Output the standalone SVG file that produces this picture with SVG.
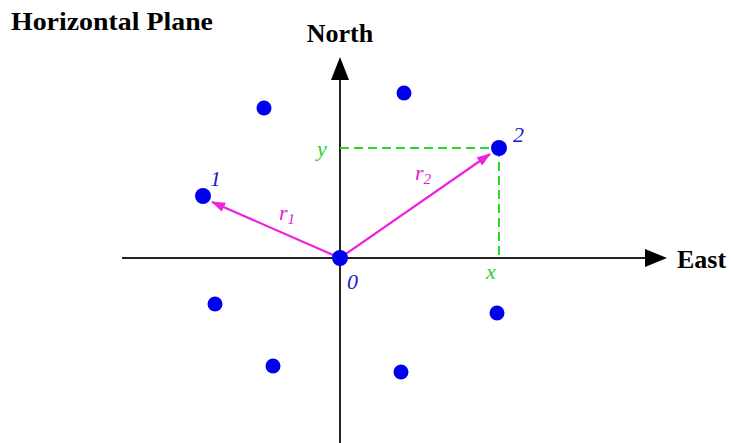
<svg xmlns="http://www.w3.org/2000/svg" width="731" height="443" viewBox="0 0 731 443">
<style>
.bold{font-family:"Liberation Serif","DejaVu Serif",serif;font-weight:bold;font-size:26px;fill:#000}
.it{font-family:"Liberation Serif","DejaVu Serif",serif;font-style:italic;font-size:22px}
.blue{fill:#2020c8}
.green{fill:#33cc33}
.mag{fill:#e020d0}
.dot{fill:#0000ee}
.axis{stroke:#222;stroke-width:2;fill:none}
.dash{stroke:#22dd22;stroke-width:2;stroke-dasharray:9 5;fill:none}
.vec{stroke:#ee22dd;stroke-width:2.2;fill:none}
</style>
<defs>
<marker id="mh" markerWidth="14" markerHeight="10" refX="13" refY="5" orient="auto" markerUnits="userSpaceOnUse"><path d="M0,0 L14,5 L0,10 Z" fill="#ee22dd"/></marker>
</defs>
<rect width="731" height="443" fill="#fff"/>
<text class="bold" x="11" y="30" textLength="202" lengthAdjust="spacingAndGlyphs">Horizontal Plane</text>
<g id="connectors">
<line class="axis" x1="340" y1="443" x2="340" y2="80"/>
<path d="M331,80 L340,57 L349,80 Z" fill="#000"/>
<line class="axis" x1="122" y1="258" x2="645" y2="258"/>
<path d="M645,249 L667,258 L645,267 Z" fill="#000"/>
<line class="dash" x1="340" y1="148" x2="499" y2="148"/>
<line class="dash" x1="499" y1="148" x2="499" y2="258"/>
<line class="vec" x1="340" y1="258" x2="212" y2="202" marker-end="url(#mh)"/>
<line class="vec" x1="340" y1="258" x2="490" y2="154" marker-end="url(#mh)"/>
</g>
<g id="north"><text class="bold" x="340" y="42" text-anchor="middle">North</text></g>
<g id="east"><text class="bold" x="677" y="268">East</text></g>
<g id="node0"><circle class="dot" cx="340" cy="258" r="8"/><text class="it blue" x="347" y="289">0</text></g>
<g id="node1"><circle class="dot" cx="203" cy="196" r="8"/><text class="it blue" x="210" y="186">1</text></g>
<g id="node2"><circle class="dot" cx="499" cy="148" r="8"/><text class="it blue" x="513" y="142">2</text></g>
<g id="dot3"><circle class="dot" cx="264" cy="108" r="7.5"/></g>
<g id="dot4"><circle class="dot" cx="404" cy="93" r="7.5"/></g>
<g id="dot5"><circle class="dot" cx="215" cy="304" r="7.5"/></g>
<g id="dot6"><circle class="dot" cx="497" cy="313" r="7.5"/></g>
<g id="dot7"><circle class="dot" cx="273" cy="366" r="7.5"/></g>
<g id="dot8"><circle class="dot" cx="401" cy="372" r="7.5"/></g>
<g id="labels">
<text class="it green" x="317" y="156">y</text>
<text class="it green" x="486" y="279">x</text>
<text class="it mag" x="279" y="220">r<tspan font-size="15" dy="4">1</tspan></text>
<text class="it mag" x="415" y="180">r<tspan font-size="15" dy="4">2</tspan></text>
</g>
</svg>
